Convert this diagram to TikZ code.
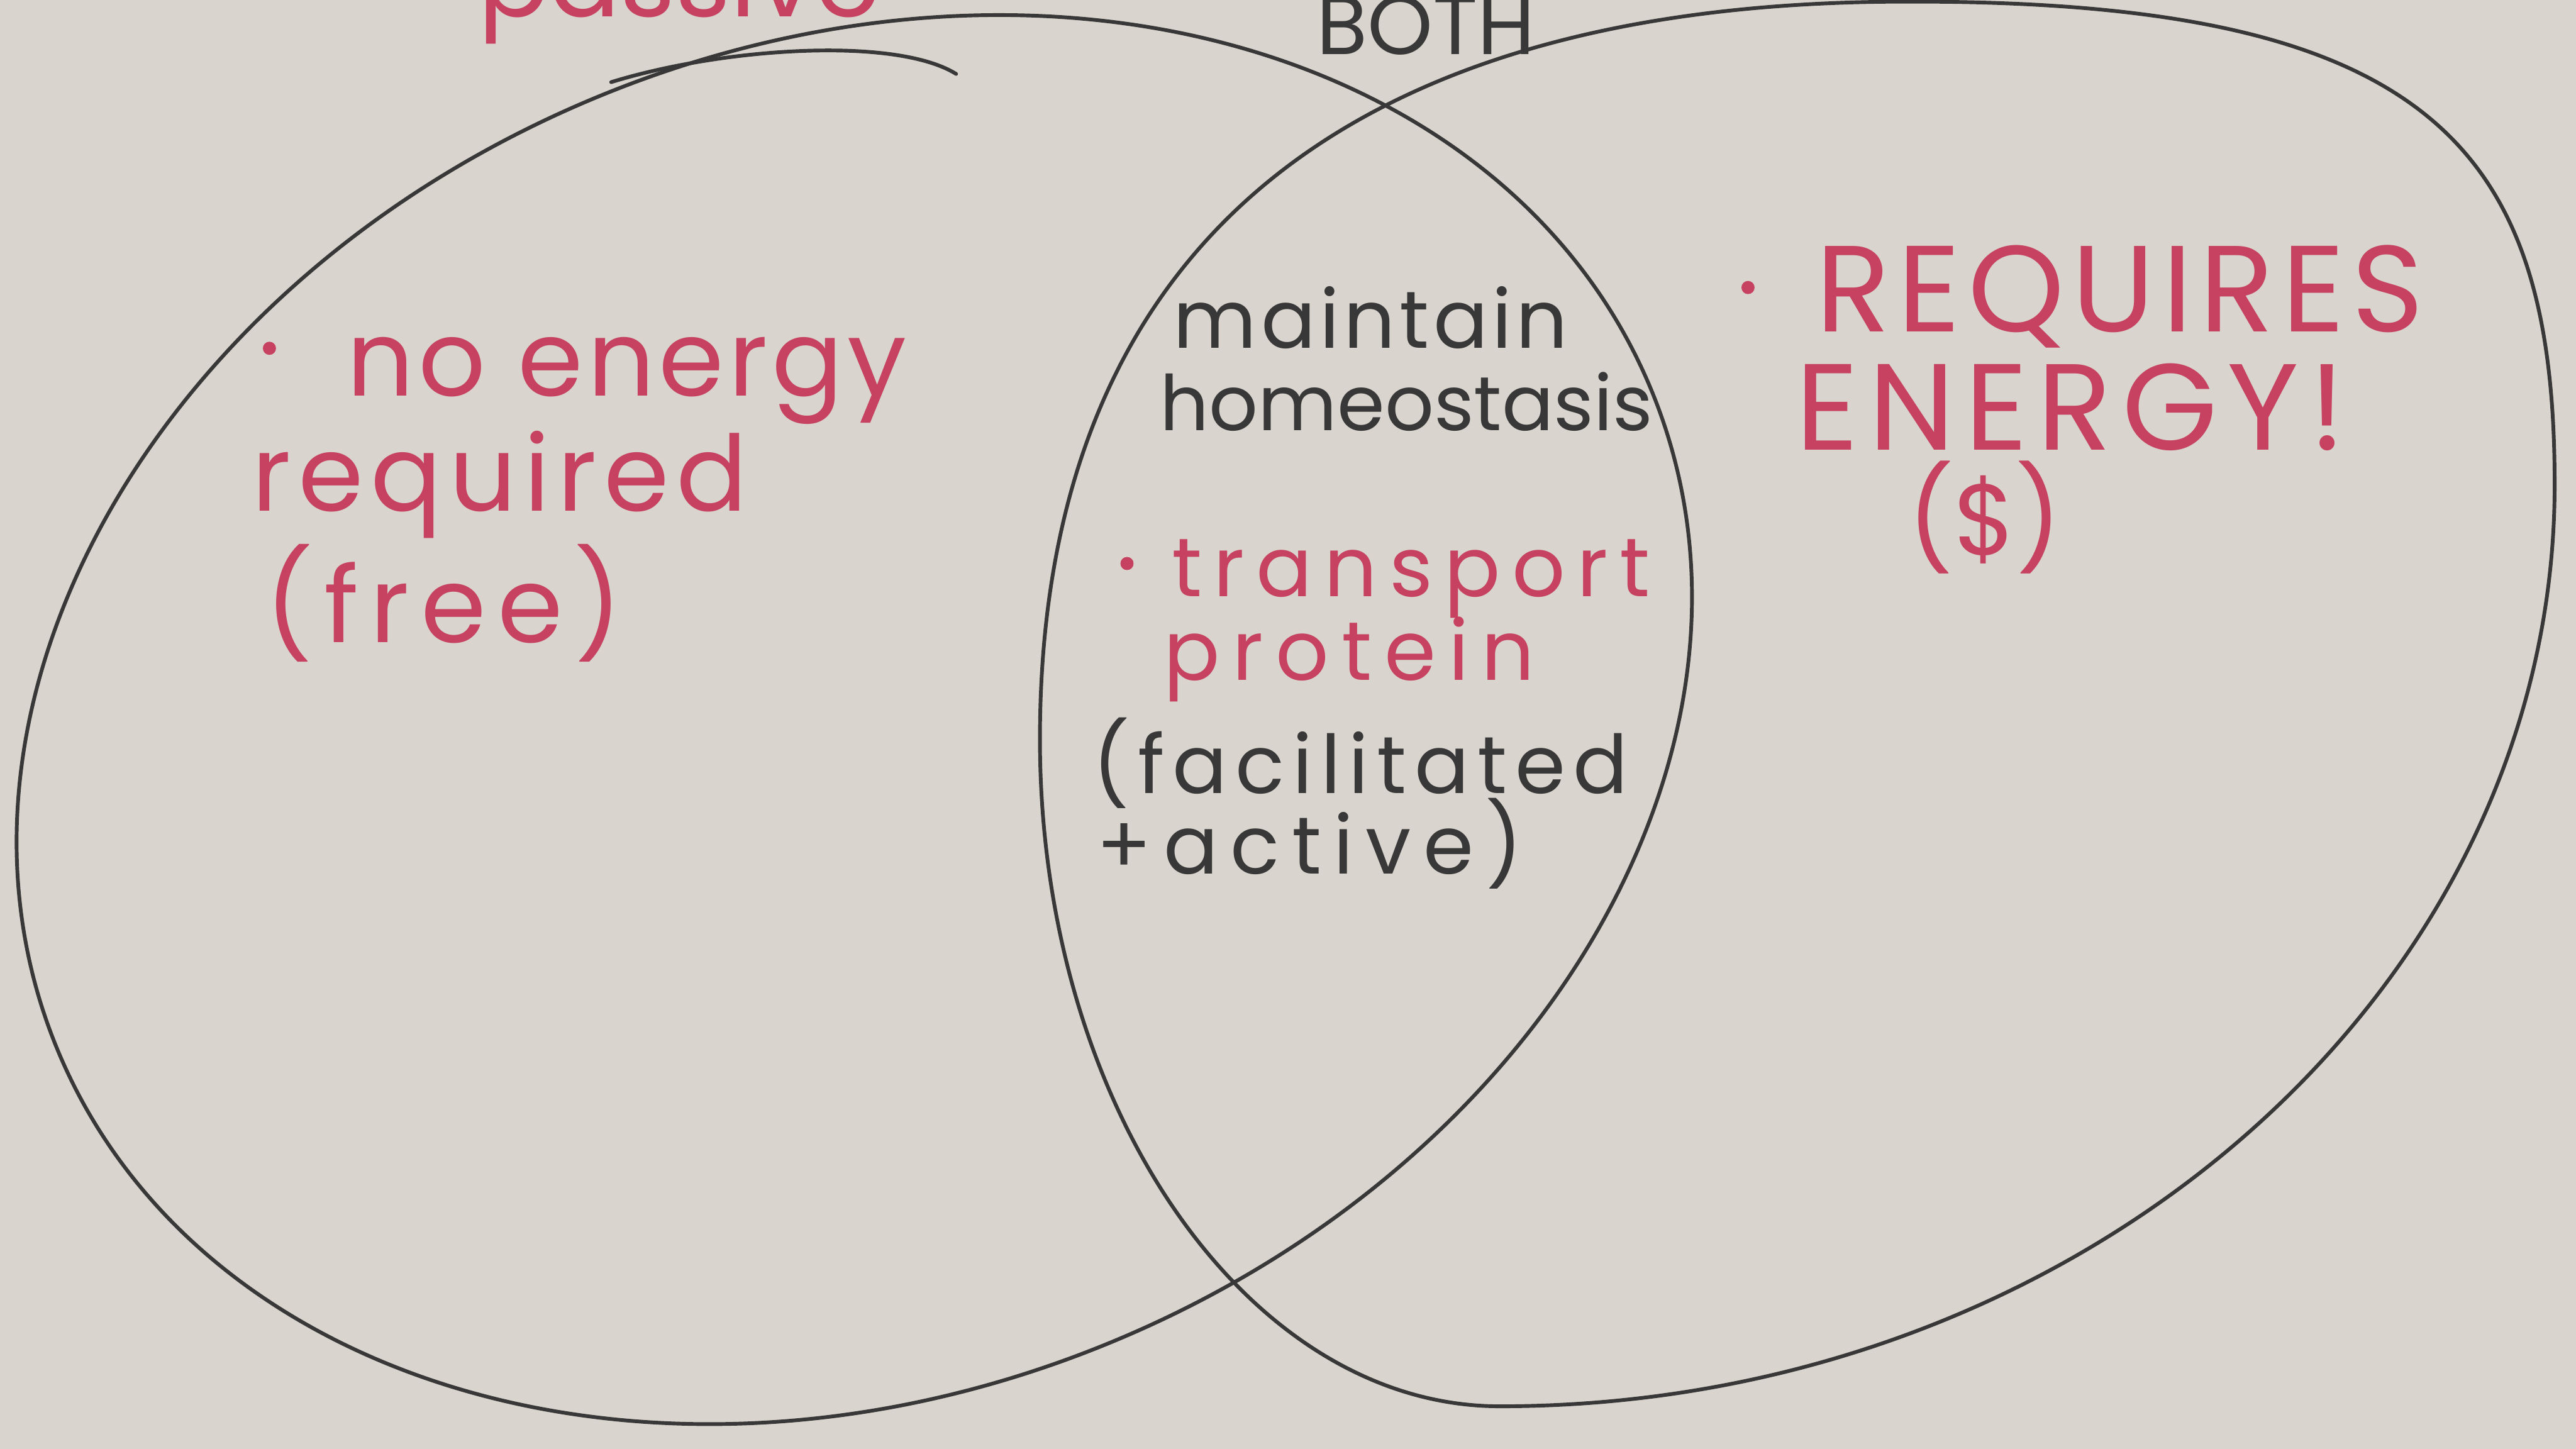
\documentclass[tikz,border=0pt]{standalone}
\usepackage{fontspec}
\setmainfont{Poppins}
\definecolor{paper}{RGB}{217,213,206}
\definecolor{inkred}{RGB}{198,66,96}
\definecolor{pencil}{RGB}{56,56,56}
\newcommand{\spread}[1]{\addfontfeature{LetterSpace=#1}}

\begin{document}
\begin{tikzpicture}[x=0.75pt,y=0.75pt,yscale=-1,xscale=1,
  outline/.style={draw=pencil, line width=1.7pt, line join=round, line cap=round},
  redtxt/.style={text=inkred, anchor=base west, inner sep=0.75pt},
  blktxt/.style={text=pencil, anchor=base west, inner sep=0.75pt},
  bigred/.style={redtxt, font=\fontsize{48}{48}\selectfont},
  midred/.style={redtxt, font=\fontsize{38}{38}\selectfont},
  capred/.style={redtxt, font=\fontsize{56}{56}\selectfont},
  midblk/.style={blktxt, font=\fontsize{37}{37}\selectfont},
  bullet/.style={circle, fill=inkred, inner sep=0pt, minimum size=6pt}
]
%set diagram left start at 0, and has height of 882
\fill [paper] (0,0) rectangle (1568,882);
\clip (0,0) rectangle (1568,882);

%Shape: Ellipse [id:passive]
\draw [outline] [rotate around={-22.5:(520,438)}] (520,438) ellipse (525 and 410);
%Shape: Free Drawing [id:overlap]
\draw [outline] (372,50) .. controls (440,29) and (545,22) .. (582,45) ;
%Shape: Free Drawing [id:active]
\draw [outline] (1160,1) .. controls (1480,0) and (1555,90) .. (1555,295) .. controls (1555,604) and (1266,856) .. (913,856) .. controls (759,856) and (633,673) .. (633,450) .. controls (633,150) and (820,1) .. (1160,1) -- cycle ;

% Text Node
\draw (290,10) node [bigred] (ttlpassive) {passive};
% Text Node
\draw (800,33) node [blktxt, font=\fontsize{38}{38}\selectfont] (ttlboth) {BOTH};

% Text Node
\node [bullet] (dotfree) at (164,212) {};
\draw (210,241) node [bigred] (freeA) {\spread{4}no energy};
% Text Node
\draw (152,311) node [bigred] (freeB) {\spread{7}required};
% Text Node
\draw (160,391) node [bigred] (freeC) {\spread{11}(free)};

% Text Node
\draw (713,212) node [midblk] (homeoA) {\spread{5}maintain};
% Text Node
\draw (705,262) node [midblk, font=\fontsize{35}{35}\selectfont] (homeoB) {homeostasis};
% Text Node
\node [bullet] (dotprot) at (686,343) {};
\draw (712,363) node [midred] (protA) {\spread{14}transport};
% Text Node
\draw (707,414) node [midred] (protB) {\spread{15}protein};
% Text Node
\draw (664,483) node [midblk] (protC) {\spread{10}(facilitated};
% Text Node
\draw (666,532) node [midblk] (protD) {\spread{15}+active)};

% Text Node
\node [bullet] (dotcost) at (1064,175) {};
\draw (1104,202) node [capred] (costA) {\spread{6}REQUIRES};
% Text Node
\draw (1092,274) node [capred] (costB) {\spread{8}ENERGY!};
% Text Node
\draw (1160,338) node [redtxt, font=\fontsize{46}{46}\selectfont] (costC) {(\$)};

\end{tikzpicture}
\end{document}
